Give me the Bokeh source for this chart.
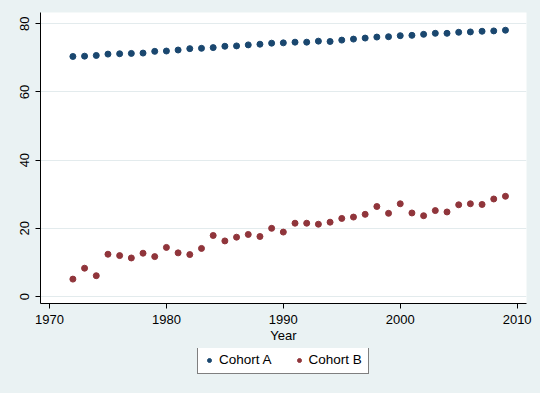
from bokeh.plotting import figure
from bokeh.layouts import column
from bokeh.models import Range1d, FixedTicker, Legend, LegendItem, ColumnDataSource
from bokeh.embed import file_html
from bokeh.resources import INLINE

years = list(range(1972, 2010))
cohort_a = [70.4, 70.5, 70.7, 71.1, 71.2, 71.3, 71.4, 71.9, 72.0, 72.3,
            72.7, 72.8, 73.0, 73.4, 73.5, 73.8, 74.0, 74.3, 74.4, 74.6,
            74.6, 74.9, 74.8, 75.2, 75.5, 75.8, 76.1, 76.2, 76.5, 76.6,
            76.9, 77.2, 77.2, 77.5, 77.6, 77.8, 77.9, 78.1]
cohort_b = [5.1, 8.3, 6.1, 12.4, 12.0, 11.3, 12.7, 11.7, 14.4, 12.8,
            12.3, 14.1, 17.9, 16.3, 17.4, 18.2, 17.6, 20.0, 18.9, 21.5,
            21.5, 21.2, 21.8, 22.9, 23.3, 24.1, 26.4, 24.4, 27.2, 24.5,
            23.7, 25.2, 24.8, 26.9, 27.2, 27.0, 28.6, 29.4]
x_ticks = [1970, 1980, 1990, 2000, 2010]
y_ticks = [0, 20, 40, 60, 80]
series_names = ["Cohort A", "Cohort B"]
colors = ["#1A476F", "#90353B"]

BG = "#EAF2F3"
FONT = "Liberation Sans"

src = ColumnDataSource(dict(year=years, a=cohort_a, b=cohort_b))

p1 = figure(frame_width=486, frame_height=291, output_backend="svg", toolbar_location=None,
            x_range=Range1d(1969.23, 2010.8), y_range=Range1d(-2.05, 83.3),
            min_border_left=40, min_border_top=12, min_border_right=14, min_border_bottom=45)
p1.background_fill_color = "white"
p1.border_fill_color = BG
p1.outline_line_color = None

p1.scatter("year", "a", source=src, size=6, color=colors[0])
p1.scatter("year", "b", source=src, size=6, color=colors[1])

p1.xgrid.grid_line_color = None
p1.ygrid.grid_line_color = "#E3EBED"
p1.ygrid.grid_line_width = 1

for ax in (p1.xaxis[0], p1.yaxis[0]):
    ax.axis_line_color = "black"
    ax.major_tick_line_color = "black"
    ax.minor_tick_line_color = None
    ax.major_tick_out = 5
    ax.major_tick_in = 0
    ax.major_label_text_font = FONT
    ax.major_label_text_font_size = "13px"
    ax.major_label_text_color = "black"
    ax.major_label_standoff = 6

p1.xaxis.ticker = FixedTicker(ticks=x_ticks)
p1.yaxis.ticker = FixedTicker(ticks=y_ticks)
p1.yaxis.major_label_orientation = "vertical"
p1.xaxis.axis_label = "Year"
p1.xaxis.axis_label_text_font = FONT
p1.xaxis.axis_label_text_font_size = "13px"
p1.xaxis.axis_label_text_font_style = "normal"
p1.xaxis.axis_label_text_color = "black"
p1.xaxis.axis_label_standoff = 1

# legend strip (its renderers use the same data, which lies outside this strip's ranges)
p2 = figure(frame_width=540, frame_height=45, output_backend="svg", toolbar_location=None,
            x_range=Range1d(0, 1), y_range=Range1d(0, 1),
            x_axis_type=None, y_axis_type=None, min_border=0)
p2.background_fill_color = BG
p2.border_fill_color = BG
p2.outline_line_color = None
p2.grid.grid_line_color = None
la = p2.scatter("year", "a", source=src, size=6, color=colors[0])
lb = p2.scatter("year", "b", source=src, size=6, color=colors[1])

legend = Legend(items=[LegendItem(label=series_names[0], renderers=[la]),
                       LegendItem(label=series_names[1], renderers=[lb])],
                orientation="horizontal", location=(197, 19))
legend.label_text_font = FONT
legend.label_text_font_size = "13.5px"
legend.label_text_color = "black"
legend.border_line_color = "black"
legend.border_line_width = 1
legend.background_fill_color = "white"
legend.background_fill_alpha = 1
legend.glyph_width = 10
legend.glyph_height = 10
legend.label_standoff = 5
legend.spacing = 22
legend.padding = 6
legend.margin = 0
legend.label_height = 13
p2.add_layout(legend)

layout = column(p1, p2, spacing=0, styles={"background-color": BG})
open("out.html", "w").write(file_html(layout, INLINE))
